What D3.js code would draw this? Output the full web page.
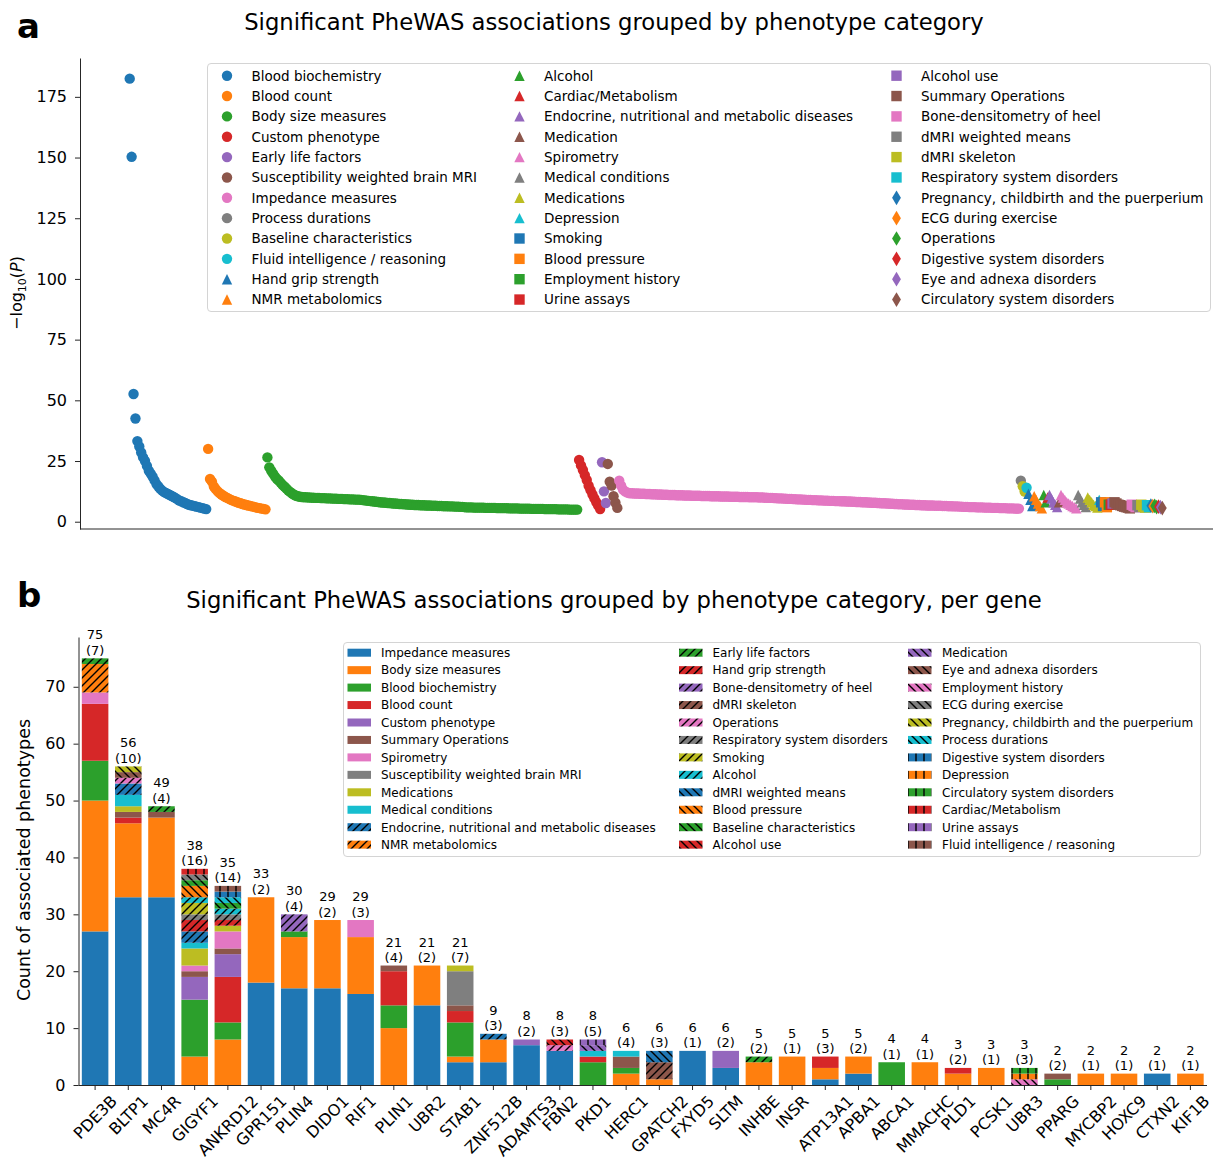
<!DOCTYPE html>
<html>
<head>
<meta charset="utf-8">
<script src="https://cdn.jsdelivr.net/npm/d3@7"></script>
<style>
  body { margin: 0; background: #fff; }
  svg { display: block; }
  text { font-family: "DejaVu Sans", "Liberation Sans", sans-serif; fill: #000; }
</style>
</head>
<body>
<svg id="chart" width="1221" height="1161"></svg>
<script>
// Matplotlib "tab10" cycle, used by both panels
const tab10 = ["#1f77b4", "#ff7f0e", "#2ca02c", "#d62728", "#9467bd",
               "#8c564b", "#e377c2", "#7f7f7f", "#bcbd22", "#17becf"];

// ---------------- Panel a: -log10(P) of every significant association ----------------
const phewasCategories = [
  "Blood biochemistry", "Blood count", "Body size measures", "Custom phenotype", "Early life factors",
  "Susceptibility weighted brain MRI", "Impedance measures", "Process durations", "Baseline characteristics",
  "Fluid intelligence / reasoning", "Hand grip strength", "NMR metabolomics",
  "Alcohol", "Cardiac/Metabolism", "Endocrine, nutritional and metabolic diseases", "Medication", "Spirometry",
  "Medical conditions", "Medications", "Depression", "Smoking", "Blood pressure", "Employment history", "Urine assays",
  "Alcohol use", "Summary Operations", "Bone-densitometry of heel", "dMRI weighted means", "dMRI skeleton",
  "Respiratory system disorders", "Pregnancy, childbirth and the puerperium", "ECG during exercise", "Operations",
  "Digestive system disorders", "Eye and adnexa disorders", "Circulatory system disorders"
];

const bloodBiochemistryLogP = [182.5, 150.3, 52.6, 42.5, 33.2, 31.0, 28.5, 26.5, 25.0, 23.0, 21.0, 19.8, 18.5, 17.0,
  15.5, 14.5, 13.5, 12.8, 12.2, 11.8, 11.4, 11.0, 10.6, 10.2, 9.7, 9.2, 8.7, 8.4, 8.0, 7.7, 7.3, 7.0, 6.8, 6.6, 6.4,
  6.2, 6.0, 5.8, 5.6, 5.4, 5.2];

const bloodCountLogP = [30.0, 17.6, 16.5, 14.5, 13.4, 12.5, 11.8, 11.2, 10.7, 10.2, 9.8, 9.4, 9.0, 8.7, 8.4, 8.1,
  7.8, 7.6, 7.3, 7.1, 6.9, 6.7, 6.5, 6.3, 6.1, 5.9, 5.7, 5.6, 5.4, 5.3, 5.1];

const bodySizeLogP = [26.5, 22.4, 21.0, 19.8, 18.6, 17.6, 16.9, 16.0, 15.1, 14.4, 13.6, 12.8, 12.2, 11.6, 11.1, 10.7, 10.5,
  10.3, 10.2, 10.1, 10.1, 10.0, 10.0, 9.9, 9.9, 9.8, 9.8, 9.8, 9.7, 9.7, 9.7, 9.6, 9.6, 9.6, 9.5, 9.5, 9.5, 9.4, 9.4,
  9.4, 9.3, 9.3, 9.3, 9.2, 9.2, 9.2, 9.1, 9.1, 9.1,
  9.0, 8.9, 8.8, 8.7, 8.6, 8.5, 8.4, 8.3, 8.2, 8.1, 8.0, 7.9, 7.9, 7.8, 7.7, 7.7, 7.6, 7.5, 7.5, 7.4, 7.3,
  7.3, 7.2, 7.2, 7.1, 7.1, 7.0, 7.0, 6.9, 6.9, 6.9, 6.8, 6.8, 6.8, 6.7, 6.7, 6.7, 6.6, 6.6, 6.6, 6.5, 6.5, 6.5, 6.4,
  6.4, 6.4, 6.3, 6.3, 6.3, 6.2, 6.2, 6.2, 6.1, 6.1, 6.0, 5.9,
  5.9, 5.9, 5.9, 5.8, 5.8, 5.8, 5.8, 5.8, 5.8, 5.7, 5.7, 5.7, 5.7, 5.7, 5.7, 5.6, 5.6, 5.6, 5.6, 5.6, 5.6, 5.5, 5.5,
  5.5, 5.5, 5.5, 5.5, 5.4, 5.4, 5.4, 5.4, 5.4, 5.4, 5.3, 5.3, 5.3, 5.3, 5.3, 5.3, 5.3, 5.2, 5.2, 5.2, 5.2, 5.2, 5.2,
  5.2, 5.1, 5.1, 5.1, 5.1, 5.1, 5.1, 5.0, 5.0, 5.0, 5.0, 5.0];

const customPhenotypeLogP = [25.4, 23.2, 21.3, 19.2, 17.2, 14.8, 13.0, 11.2, 9.6, 8.0, 6.6, 5.2];

const earlyLifeLogP = [24.5, 12.5, 7.7];

const swiBrainMriLogP = [23.8, 16.5, 14.9, 10.5, 7.8, 5.7];

const impedanceLogP = [16.9, 14.8, 13.2, 12.5, 12.1, 11.8,
  11.7, 11.7, 11.6, 11.6, 11.6, 11.5, 11.5, 11.5, 11.4, 11.4, 11.4, 11.3, 11.3, 11.3, 11.2, 11.2, 11.2, 11.1, 11.1,
  11.1, 11.0, 11.0, 11.0, 11.0, 10.9, 10.9, 10.9, 10.9, 10.8, 10.8, 10.8, 10.8, 10.7, 10.7,
  10.7, 10.7, 10.7, 10.6, 10.6, 10.6, 10.6, 10.6, 10.5, 10.5, 10.5, 10.5, 10.5, 10.4, 10.4, 10.4, 10.4, 10.4, 10.3,
  10.3, 10.3, 10.3, 10.3, 10.2, 10.2, 10.2, 10.2, 10.2, 10.1, 10.1, 10.1, 10.1, 10.1, 10.0, 10.0,
  10.0, 9.9, 9.9, 9.8, 9.8, 9.8, 9.7, 9.7, 9.6, 9.6, 9.6, 9.5, 9.5, 9.4, 9.4, 9.4, 9.3, 9.3, 9.2, 9.2, 9.2, 9.1, 9.1,
  9.0, 9.0, 9.0, 8.9, 8.9, 8.9, 8.8, 8.8, 8.8, 8.7, 8.7, 8.7,
  8.6, 8.6, 8.6, 8.5, 8.5, 8.5, 8.4, 8.4, 8.4, 8.3, 8.3, 8.3, 8.2, 8.2, 8.1, 8.1, 8.1, 8.0, 8.0, 8.0, 7.9, 7.9, 7.8,
  7.8, 7.8, 7.7, 7.7, 7.6, 7.6, 7.6, 7.5, 7.5, 7.4, 7.4, 7.3,
  7.3, 7.2, 7.2, 7.2, 7.1, 7.1, 7.1, 7.0, 7.0, 7.0, 6.9, 6.9, 6.9, 6.8, 6.8, 6.8, 6.7, 6.7, 6.7, 6.7, 6.6, 6.6, 6.6,
  6.6, 6.5, 6.5, 6.5, 6.4, 6.4, 6.4, 6.3, 6.3, 6.3, 6.2, 6.2,
  6.1, 6.1, 6.1, 6.0, 6.0, 6.0, 6.0, 5.9, 5.9, 5.9, 5.9, 5.8, 5.8, 5.8, 5.8, 5.7, 5.7, 5.7, 5.7, 5.6, 5.6, 5.6, 5.6,
  5.5, 5.5, 5.5, 5.5, 5.4, 5.4, 5.4];

// Smaller categories, in the order of phewasCategories from "Process durations" onward
const otherCategoryLogP = [
  [16.9], [14.6, 12.4], [14.0], [11.5, 9.0, 6.5], [10.5, 9.0, 7.5, 6.5, 5.5], [11.0, 8.0], [10.0],
  [11.0, 9.5, 8.0, 7.0, 6.0], [8.0], [11.0, 10.0, 9.0, 8.0, 7.5, 7.0, 6.5, 6.0, 5.5], [11.0, 9.5, 8.0, 7.0, 6.0],
  [10.0, 9.0, 8.0, 7.0, 6.5, 5.8], [9.0], [8.0, 6.5], [8.0, 6.0], [7.0], [7.0], [7.5],
  [8.0, 7.5, 7.0, 6.8, 6.5, 6.2, 6.0, 5.8, 5.5], [7.0, 6.5, 6.0], [6.8, 6.0], [7.0, 6.2, 5.8], [6.8, 6.0],
  [6.6], [6.4], [6.5, 6.0], [6.2], [6.0], [5.6]
];

const logPTicks = [0, 25, 50, 75, 100, 125, 150, 175];

// ---------------- Panel b: association counts per gene ----------------
const genes = ["PDE3B", "BLTP1", "MC4R", "GIGYF1", "ANKRD12", "GPR151", "PLIN4", "DIDO1", "RIF1", "PLIN1", "UBR2",
  "STAB1", "ZNF512B", "ADAMTS3", "FBN2", "PKD1", "HERC1", "GPATCH2", "FXYD5", "SLTM", "INHBE", "INSR", "ATP13A1",
  "APBA1", "ABCA1", "MMACHC", "PLD1", "PCSK1", "UBR3", "PPARG", "MYCBP2", "HOXC9", "CTXN2", "KIF1B"];

const geneCategories = [
  "Impedance measures", "Body size measures", "Blood biochemistry", "Blood count", "Custom phenotype",
  "Summary Operations", "Spirometry", "Susceptibility weighted brain MRI", "Medications", "Medical conditions",
  "Endocrine, nutritional and metabolic diseases", "NMR metabolomics", "Early life factors", "Hand grip strength",
  "Bone-densitometry of heel", "dMRI skeleton", "Operations", "Respiratory system disorders", "Smoking", "Alcohol",
  "dMRI weighted means", "Blood pressure", "Baseline characteristics", "Alcohol use", "Medication",
  "Eye and adnexa disorders", "Employment history", "ECG during exercise", "Pregnancy, childbirth and the puerperium",
  "Process durations", "Digestive system disorders", "Depression", "Circulatory system disorders",
  "Cardiac/Metabolism", "Urine assays", "Fluid intelligence / reasoning"
];

const geneCounts = [
  [["Impedance measures", 27], ["Body size measures", 23], ["Blood biochemistry", 7], ["Blood count", 10],
   ["Spirometry", 2], ["NMR metabolomics", 5], ["Early life factors", 1]],
  [["Impedance measures", 33], ["Body size measures", 13], ["Blood count", 1], ["Summary Operations", 1],
   ["Medications", 1], ["Medical conditions", 2], ["Endocrine, nutritional and metabolic diseases", 2],
   ["Operations", 1], ["Eye and adnexa disorders", 1], ["Pregnancy, childbirth and the puerperium", 1]],
  [["Impedance measures", 33], ["Body size measures", 14], ["Summary Operations", 1], ["Early life factors", 1]],
  [["Body size measures", 5], ["Blood biochemistry", 10], ["Custom phenotype", 4], ["Summary Operations", 1],
   ["Spirometry", 1], ["Medications", 3], ["Medical conditions", 1],
   ["Endocrine, nutritional and metabolic diseases", 2], ["Hand grip strength", 2],
   ["Respiratory system disorders", 1], ["Smoking", 2], ["Alcohol", 1], ["Blood pressure", 2],
   ["Baseline characteristics", 1], ["ECG during exercise", 1], ["Cardiac/Metabolism", 1]],
  [["Body size measures", 8], ["Blood biochemistry", 3], ["Blood count", 8], ["Custom phenotype", 4],
   ["Summary Operations", 1], ["Spirometry", 3], ["Medications", 1], ["Hand grip strength", 1],
   ["Respiratory system disorders", 1], ["Alcohol", 1], ["Baseline characteristics", 1], ["Process durations", 1],
   ["Digestive system disorders", 1], ["Fluid intelligence / reasoning", 1]],
  [["Impedance measures", 18], ["Body size measures", 15]],
  [["Impedance measures", 17], ["Body size measures", 9], ["Blood biochemistry", 1], ["Bone-densitometry of heel", 3]],
  [["Impedance measures", 17], ["Body size measures", 12]],
  [["Impedance measures", 16], ["Body size measures", 10], ["Spirometry", 3]],
  [["Body size measures", 10], ["Blood biochemistry", 4], ["Blood count", 6], ["Summary Operations", 1]],
  [["Impedance measures", 14], ["Body size measures", 7]],
  [["Impedance measures", 4], ["Body size measures", 1], ["Blood biochemistry", 6], ["Blood count", 2],
   ["Summary Operations", 1], ["Susceptibility weighted brain MRI", 6], ["Medications", 1]],
  [["Impedance measures", 4], ["Body size measures", 4], ["Endocrine, nutritional and metabolic diseases", 1]],
  [["Impedance measures", 7], ["Custom phenotype", 1]],
  [["Impedance measures", 6], ["Operations", 1], ["Alcohol use", 1]],
  [["Blood biochemistry", 4], ["Blood count", 1], ["Medical conditions", 1], ["Medication", 1], ["Urine assays", 1]],
  [["Body size measures", 2], ["Blood biochemistry", 1], ["Summary Operations", 2], ["Medical conditions", 1]],
  [["Body size measures", 1], ["dMRI skeleton", 3], ["dMRI weighted means", 2]],
  [["Impedance measures", 6]],
  [["Impedance measures", 3], ["Custom phenotype", 3]],
  [["Body size measures", 4], ["Early life factors", 1]],
  [["Body size measures", 5]],
  [["Impedance measures", 1], ["Body size measures", 2], ["Blood count", 2]],
  [["Impedance measures", 2], ["Body size measures", 3]],
  [["Blood biochemistry", 4]],
  [["Body size measures", 4]],
  [["Body size measures", 2], ["Blood count", 1]],
  [["Body size measures", 3]],
  [["Employment history", 1], ["Depression", 1], ["Circulatory system disorders", 1]],
  [["Blood biochemistry", 1], ["Summary Operations", 1]],
  [["Body size measures", 2]],
  [["Body size measures", 2]],
  [["Impedance measures", 2]],
  [["Body size measures", 2]]
];

const countTicks = [0, 10, 20, 30, 40, 50, 60, 70];

// ============================ drawing ============================
const svg = d3.select("#chart");
const defs = svg.append("defs");
const INK = "#262626";

function styleAxis(g) {
  g.select(".domain").attr("stroke", INK).attr("stroke-width", 1);
  g.selectAll(".tick line").attr("stroke", INK).attr("stroke-width", 1);
  g.selectAll(".tick text").attr("font-size", 16).attr("fill", "#000")
    .attr("font-family", '"DejaVu Sans", sans-serif');
}

// marker shapes: circle, triangle-up, square, thin diamond
function markerPath(shape, ms) {
  const h = ms / 2;
  if (shape === 0) return d3.symbol(d3.symbolCircle, Math.PI * h * h)();
  if (shape === 1) return `M0,${-h}L${h},${h}L${-h},${h}Z`;
  if (shape === 2) return `M${-h},${-h}H${h}V${h}H${-h}Z`;
  const dy = ms * Math.SQRT1_2, dx = 0.6 * dy;
  return `M0,${-dy}L${dx},0L0,${dy}L${-dx},0Z`;
}
const markerSize = 10.4;

// ---------- panel a ----------
const aLeft = 80, aRight = 1213, aTop = 58, aBottom = 529;
const seriesA = [bloodBiochemistryLogP, bloodCountLogP, bodySizeLogP, customPhenotypeLogP, earlyLifeLogP,
  swiBrainMriLogP, impedanceLogP, ...otherCategoryLogP];
const pointsA = [];
seriesA.forEach((vals, ci) => vals.forEach(v => pointsA.push({ ci, v, i: pointsA.length })));

const xA = d3.scaleLinear().domain([-26, pointsA.length + 25.5]).range([aLeft, aRight]);
const yA = d3.scaleLinear().domain([-3, 191]).range([aBottom, aTop]);

svg.append("text").attr("x", 17).attr("y", 38).attr("font-size", 34).attr("font-weight", "bold").text("a");
svg.append("text").attr("x", 614).attr("y", 30).attr("text-anchor", "middle").attr("font-size", 22.7)
  .text("Significant PheWAS associations grouped by phenotype category");

const gAy = svg.append("g").attr("transform", `translate(${aLeft},0)`)
  .call(d3.axisLeft(yA).tickValues(logPTicks).tickSize(5).tickPadding(8).tickSizeOuter(0));
styleAxis(gAy);
svg.append("line").attr("x1", aLeft).attr("x2", aRight).attr("y1", aBottom).attr("y2", aBottom)
  .attr("stroke", INK).attr("stroke-width", 1);

const yLabA = svg.append("text").attr("transform", "translate(22,293) rotate(-90)")
  .attr("text-anchor", "middle").attr("font-size", 16);
yLabA.append("tspan").text("\u2212log");
yLabA.append("tspan").attr("font-size", 11).attr("dy", 4).text("10");
yLabA.append("tspan").attr("dy", -4).text("(");
yLabA.append("tspan").attr("font-style", "italic").text("P");
yLabA.append("tspan").text(")");

svg.append("g").selectAll("path").data(pointsA).join("path")
  .attr("transform", d => `translate(${xA(d.i)},${yA(d.v)})`)
  .attr("d", d => markerPath(Math.floor(d.ci / 10), markerSize))
  .attr("fill", d => tab10[d.ci % 10]);

// legend a
const legA = svg.append("g");
legA.append("rect").attr("x", 207.5).attr("y", 63.5).attr("width", 1003).attr("height", 248)
  .attr("rx", 3.5).attr("fill", "#fff").attr("fill-opacity", 0.8).attr("stroke", "#d4d4d4");
const legAMarkX = [227, 519.5, 896.5], legATextX = [251.5, 544, 921];
phewasCategories.forEach((name, ci) => {
  const col = Math.floor(ci / 12), row = ci % 12, y = 75.7 + row * 20.35;
  legA.append("path").attr("transform", `translate(${legAMarkX[col]},${y})`)
    .attr("d", markerPath(Math.floor(ci / 10), markerSize)).attr("fill", tab10[ci % 10]);
  legA.append("text").attr("x", legATextX[col]).attr("y", y).attr("dy", "0.36em")
    .attr("font-size", 13.5).attr("fill", "#222").text(name);
});

// ---------- panel b ----------
const bLeft = 78.5, bRight = 1207, bTop = 637, bBottom = 1085;
const xB = d3.scaleBand().domain(genes).range([bLeft, bRight]).paddingInner(0.2).paddingOuter(0.1);
const yB = d3.scaleLinear().domain([0, 78.75]).range([bBottom, bTop]);

// hatch fills: none, '//', '\\', '||' by block of ten categories
const hatchPaths = [null, "M-2,2L2,-2M0,8L8,0M6,10L10,6", "M-2,6L2,10M0,0L8,8M6,-2L10,2", "M4,-1V9"];
geneCategories.forEach((c, i) => {
  const kind = Math.floor(i / 10);
  if (kind === 0) return;
  const p = defs.append("pattern").attr("id", `hatch${i}`).attr("patternUnits", "userSpaceOnUse")
    .attr("width", 8).attr("height", 8);
  p.append("rect").attr("width", 8).attr("height", 8).attr("fill", tab10[i % 10]);
  p.append("path").attr("d", hatchPaths[kind]).attr("stroke", "#000").attr("stroke-width", 1.4);
});
const catFill = i => (i < 10 ? tab10[i] : `url(#hatch${i})`);

svg.append("text").attr("x", 17).attr("y", 607).attr("font-size", 34).attr("font-weight", "bold").text("b");
svg.append("text").attr("x", 614).attr("y", 608).attr("text-anchor", "middle").attr("font-size", 22.7)
  .text("Significant PheWAS associations grouped by phenotype category, per gene");

const gBy = svg.append("g").attr("transform", `translate(${bLeft},0)`)
  .call(d3.axisLeft(yB).tickValues(countTicks).tickSize(5).tickPadding(8).tickSizeOuter(0));
styleAxis(gBy);
const gBx = svg.append("g").attr("transform", `translate(0,${bBottom})`)
  .call(d3.axisBottom(xB).tickSize(5).tickSizeOuter(0).tickFormat(""));
styleAxis(gBx);
gBx.select(".domain").attr("d", `M${bLeft},0.5H${bRight}`);

svg.append("text").attr("transform", "translate(30,860) rotate(-90)").attr("text-anchor", "middle")
  .attr("font-size", 17.5).text("Count of associated phenotypes");

// stacked bars
const bars = svg.append("g");
genes.forEach((gene, gi) => {
  const segs = geneCounts[gi]
    .map(([name, n]) => ({ ci: geneCategories.indexOf(name), n }))
    .sort((a, b) => a.ci - b.ci);
  let base = 0;
  segs.forEach(s => {
    bars.append("rect")
      .attr("x", xB(gene)).attr("width", xB.bandwidth())
      .attr("y", yB(base + s.n)).attr("height", yB(base) - yB(base + s.n))
      .attr("fill", catFill(s.ci));
    base += s.n;
  });
  const cx = xB(gene) + xB.bandwidth() / 2, top = yB(base);
  bars.append("text").attr("x", cx).attr("y", top - 3.5 - 15.5).attr("text-anchor", "middle")
    .attr("font-size", 13).text(base);
  bars.append("text").attr("x", cx).attr("y", top - 3.5).attr("text-anchor", "middle")
    .attr("font-size", 13).text(`(${segs.length})`);
});

// rotated gene labels, centred under each tick
const geneLabels = svg.append("g");
genes.forEach(gene => {
  const cx = xB(gene) + xB.bandwidth() / 2;
  const t = geneLabels.append("text").attr("font-size", 16).attr("text-anchor", "middle")
    .attr("dy", "0.36em").text(gene);
  const len = t.node().getComputedTextLength();
  const half = (len + 12) * Math.SQRT1_2 / 2;
  t.attr("transform", `translate(${cx},${bBottom + 9 + half}) rotate(-45)`);
});

// legend b
const legB = svg.append("g");
legB.append("rect").attr("x", 343.5).attr("y", 642.5).attr("width", 857).attr("height", 214)
  .attr("rx", 3.5).attr("fill", "#fff").attr("fill-opacity", 0.8).attr("stroke", "#d4d4d4");
const legBPatchX = [347.5, 679, 908], legBTextX = [381, 712.5, 942];
geneCategories.forEach((name, ci) => {
  const col = Math.floor(ci / 12), row = ci % 12, y = 652.7 + row * 17.45;
  legB.append("rect").attr("x", legBPatchX[col]).attr("y", y - 4).attr("width", 23.5).attr("height", 8)
    .attr("fill", catFill(ci));
  legB.append("text").attr("x", legBTextX[col]).attr("y", y).attr("dy", "0.36em")
    .attr("font-size", 12).attr("fill", "#222").text(name);
});
</script>
</body>
</html>
